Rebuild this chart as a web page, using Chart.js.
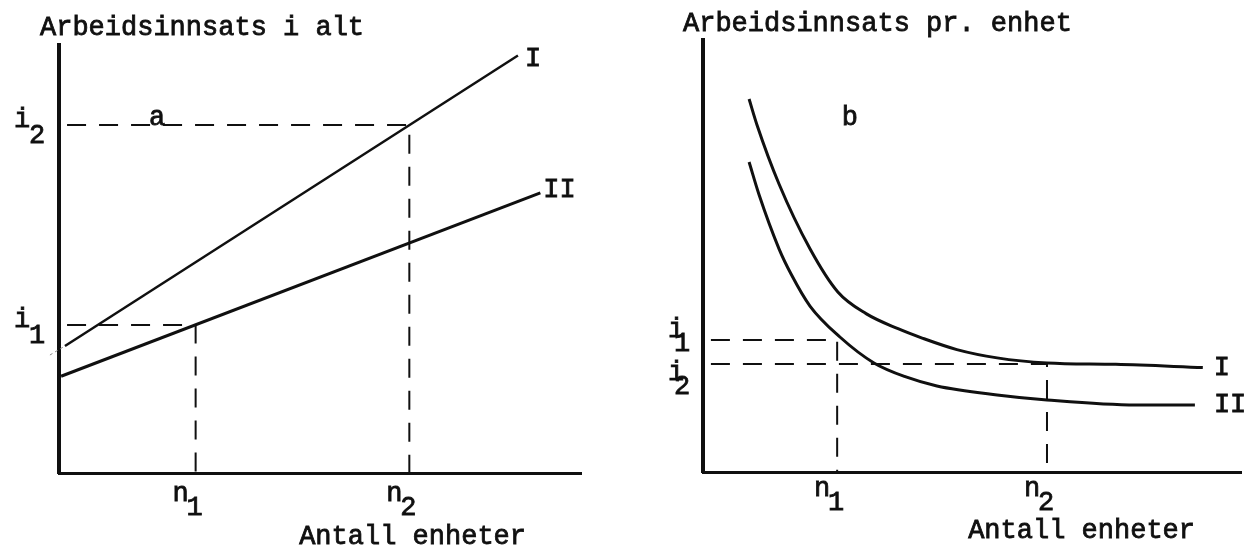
<!DOCTYPE html>
<html lang="no">
<head>
  <meta charset="UTF-8">
  <title>Arbeidsinnsats</title>
  <script src="https://cdn.jsdelivr.net/npm/chart.js"></script>
  <style>
    html, body { margin: 0; padding: 0; background: #fff; }
    #wrap { position: relative; width: 1245px; height: 547px; overflow: hidden; background: #fff; }
    #chartA { position: absolute; left: 0; top: 0; }
    #chartB { position: absolute; left: 620px; top: 0; }
  </style>
</head>
<body>
<div id="wrap">
  <canvas id="chartA" width="620" height="547"></canvas>
  <canvas id="chartB" width="625" height="547"></canvas>
</div>
<script>
  // antall enheter n1, n2 (felles for begge figurene)
  const nValues = [3.9, 10];
  const nNames = ['n', 'n'];
  const nSubs = ['1', '2'];
  const levelSubs = ['1', '2'];

  // figur a: arbeidsinnsats i alt
  const totalLevels = [4.25, 10.0];          // i1, i2
  const totalIx = [0.17, 13.1];
  const totalIy = [3.65, 12.0];
  const totalIIx = [0.06, 13.74];
  const totalIIy = [2.78, 8.05];
  const leaderX = [-0.26, 0.17];
  const leaderY = [3.39, 3.65];

  // figur b: arbeidsinnsats pr. enhet
  const unitLevels = [3.67, 3.0];            // i1, i2
  const unitIx = [1.34, 1.57, 2.21, 3.11, 3.92, 4.74, 5.67, 6.37, 7.38, 8.55, 10.0, 12.0, 14.53];
  const unitIy = [10.36, 9.64, 8.0, 6.2, 5.0, 4.4, 3.98, 3.72, 3.4, 3.17, 3.03, 2.99, 2.9];
  const unitIIx = [1.34, 1.63, 2.21, 2.56, 3.11, 3.98, 4.97, 5.9, 6.8, 8.55, 10.0, 12.59, 14.3];
  const unitIIy = [8.61, 7.7, 6.2, 5.5, 4.61, 3.75, 3.03, 2.64, 2.39, 2.14, 2.0, 1.86, 1.86];

  const ink = '#101010';
  const typeFont = '27px "Liberation Mono", "Courier New", monospace';

  const pts = (xs, ys) => xs.map((x, k) => ({ x: x, y: ys[k] }));

  function guide(level, n) {
    return {
      data: [{ x: 0.23, y: level }, { x: n, y: level }, { x: n, y: 0 }],
      borderColor: ink, borderWidth: 2, borderDash: [19, 13],
      pointRadius: 0, fill: false
    };
  }

  function curve(xs, ys, width, smooth) {
    return {
      data: pts(xs, ys),
      borderColor: ink, borderWidth: width,
      pointRadius: 0, fill: false,
      cubicInterpolationMode: smooth ? 'monotone' : 'default'
    };
  }

  // typewriter text is a bit heavier than the plain mono face
  function typed(ctx, txt, x, y) {
    ctx.fillText(txt, x, y);
    ctx.strokeText(txt, x, y);
  }

  // typed text: axis names, i/n marks with subscripts, curve names
  function typedLabels(cfg) {
    return {
      id: 'typedLabels',
      afterDraw(chart) {
        const { ctx, chartArea: area, scales: { x, y } } = chart;
        ctx.save();
        ctx.font = typeFont;
        ctx.fillStyle = ink;
        ctx.strokeStyle = ink;
        ctx.lineWidth = 0.8;
        ctx.textBaseline = 'middle';
        ctx.textAlign = 'center';

        cfg.levels.forEach((v, k) => {
          const py = y.getPixelForValue(v) + cfg.levelNudge[k];
          typed(ctx, 'i', area.left + cfg.iDx, py + cfg.iDy);
          typed(ctx, levelSubs[k], area.left + cfg.subDx, py + cfg.subDy);
        });

        nValues.forEach((v, k) => {
          const px = x.getPixelForValue(v);
          typed(ctx, nNames[k], px - 15, area.bottom + cfg.nDy);
          typed(ctx, nSubs[k], px - 1, area.bottom + cfg.nDy + 14);
        });

        // panel letter
        typed(ctx, cfg.letter, x.getPixelForValue(cfg.letterAt[0]), y.getPixelForValue(cfg.letterAt[1]));

        ctx.textAlign = 'left';
        typed(ctx, cfg.yTitle, area.left + cfg.yTitleDx, cfg.yTitleY);
        ctx.textAlign = 'right';
        typed(ctx, 'Antall enheter', area.right - cfg.xTitleDx, cfg.xTitleY);

        // curve names at the end of each curve
        ctx.textAlign = 'left';
        cfg.names.forEach((nm, k) => {
          const meta = chart.getDatasetMeta(cfg.nameSets[k]);
          const last = meta.data[meta.data.length - 1];
          typed(ctx, nm, last.x + cfg.nameGap[k], last.y + cfg.nameDy[k]);
        });
        ctx.restore();
      }
    };
  }

  function axisOpts(max, borderWidth) {
    return {
      type: 'linear', min: 0, max: max,
      grid: { display: false, drawTicks: false },
      ticks: { display: false },
      border: { display: true, color: ink, width: borderWidth }
    };
  }

  function baseOptions(padding, xMax, yMax, yBorder) {
    return {
      responsive: false,
      animation: false,
      events: [],
      layout: { padding: padding },
      plugins: { legend: { display: false }, tooltip: { enabled: false } },
      scales: { x: axisOpts(xMax, 3), y: axisOpts(yMax, yBorder) }
    };
  }

  new Chart(document.getElementById('chartA'), {
    type: 'line',
    data: {
      datasets: [
        guide(totalLevels[0], nValues[0]),
        guide(totalLevels[1], nValues[1]),
        Object.assign(curve(leaderX, leaderY, 1, false), { borderColor: '#8a8a8a', borderDash: [3, 3], clip: false }),
        curve(totalIx, totalIy, 2.5, false),
        curve(totalIIx, totalIIy, 3, false)
      ]
    },
    options: baseOptions({ left: 59, top: 45, right: 39, bottom: 74 }, 14.9, 12.3, 4),
    plugins: [typedLabels({
      levels: totalLevels, levelNudge: [0, 0],
      iDx: -37, iDy: -5, subDx: -22, subDy: 11,
      nDy: 21,
      letter: 'a', letterAt: [2.8, 10.2],
      yTitle: 'Arbeidsinnsats i alt', yTitleDx: -19, yTitleY: 28,
      xTitleDx: 55, xTitleY: 537,
      names: ['I', 'II'], nameSets: [3, 4], nameGap: [7, 3], nameDy: [3, -3]
    })]
  });

  new Chart(document.getElementById('chartB'), {
    type: 'line',
    data: {
      datasets: [
        guide(unitLevels[0], nValues[0]),
        guide(unitLevels[1], nValues[1]),
        curve(unitIx, unitIy, 3, true),
        curve(unitIIx, unitIIy, 3, true)
      ]
    },
    options: baseOptions({ left: 83, top: 40, right: 4, bottom: 75 }, 15.64, 12, 4),
    plugins: [typedLabels({
      levels: unitLevels, levelNudge: [-8, 11],
      iDx: -27, iDy: -2, subDx: -21, subDy: 12,
      nDy: 17,
      letter: 'b', letterAt: [4.27, 9.83],
      yTitle: 'Arbeidsinnsats pr. enhet', yTitleDx: -20, yTitleY: 24,
      xTitleDx: 46, xTitleY: 531,
      names: ['I', 'II'], nameSets: [2, 3], nameGap: [11, 19], nameDy: [0, 0]
    })]
  });
</script>
</body>
</html>
